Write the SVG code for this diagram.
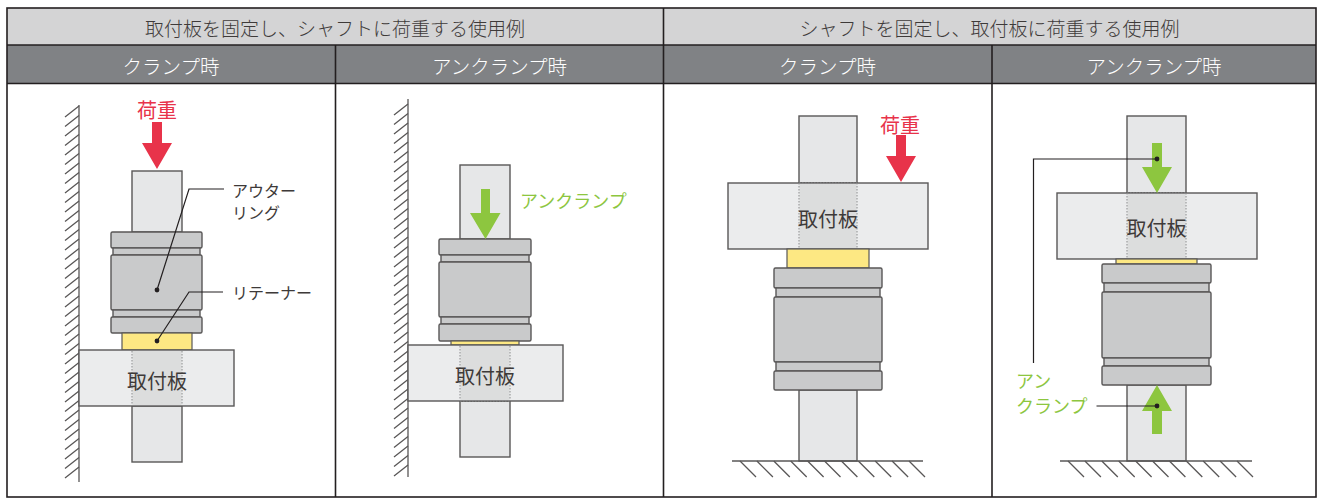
<svg xmlns="http://www.w3.org/2000/svg" width="1322" height="500" viewBox="0 0 1322 500">
  <style>
    .t { font-family: "Noto Sans CJK JP", "Noto Sans", sans-serif; dominant-baseline: central; }
    .hd1 { font-size: 19px; fill: #3e3a39; text-anchor: middle; font-weight: 300; }
    .hd2 { font-size: 19.5px; fill: #ffffff; text-anchor: middle; font-weight: 300; }
    .grid { stroke: #231f20; stroke-width: 1.6; fill: none; }
    .shaft { fill: #e6e7e8; stroke: #595757; stroke-width: 1.4; }
    .ring { fill: #c9cacb; stroke: #595757; stroke-width: 1.4; }
    .ret { fill: #fde883; stroke: #595757; stroke-width: 1.2; }
    .plate { fill: #ebeced; stroke: #595757; stroke-width: 1.4; }
    .bore { fill: #dcdddd; stroke: none; }
    .dot { stroke: #8a8b8c; stroke-width: 1; stroke-dasharray: 1.5 1.5; fill: none; }
    .hatch { stroke: #595757; stroke-width: 1.3; fill: none; }
    .lbl { font-size: 20px; fill: #3e3a39; text-anchor: middle; }
    .note { font-size: 16px; fill: #3e3a39; }
    .load { font-size: 20px; fill: #e8334a; text-anchor: middle; }
    .unc { font-size: 18px; fill: #8dc63f; }
    .red { fill: #e8334a; }
    .green { fill: #8dc63f; }
    .lead { stroke: #231f20; stroke-width: 1.2; fill: none; }
    .pin { fill: #231f20; }
  </style>

  <!-- table frame and headers -->
  <g id="table">
    <rect x="7" y="8" width="1309" height="37" fill="#d4d4d5"/>
    <rect x="7" y="45" width="1309" height="38" fill="#808285"/>
    <rect x="7" y="84" width="1309" height="413" fill="#ffffff"/>
    <rect class="grid" x="7" y="8" width="1309" height="489" stroke-width="2"/>
    <line class="grid" x1="7" y1="45" x2="1316" y2="45"/>
    <line class="grid" x1="7" y1="83.5" x2="1316" y2="83.5" stroke-width="2"/>
    <line class="grid" x1="663.5" y1="8" x2="663.5" y2="497"/>
    <line class="grid" x1="335.5" y1="45" x2="335.5" y2="497"/>
    <line class="grid" x1="992" y1="45" x2="992" y2="497"/>
    <text class="t hd1" x="335" y="27">取付板を固定し、シャフトに荷重する使用例</text>
    <text class="t hd1" x="989.5" y="27">シャフトを固定し、取付板に荷重する使用例</text>
    <text class="t hd2" x="171" y="65">クランプ時</text>
    <text class="t hd2" x="499.5" y="65">アンクランプ時</text>
    <text class="t hd2" x="827.5" y="65">クランプ時</text>
    <text class="t hd2" x="1154" y="65">アンクランプ時</text>
  </g>

  <!-- shaft loaded, clamped -->
  <g id="panel-shaft-clamp">
    <line class="hatch" x1="79" y1="105" x2="79" y2="482"/>
    <path class="hatch" d="M79,106l-14,11m14,-1.5l-14,11m14,-1.5l-14,11m14,-1.5l-14,11m14,-1.5l-14,11m14,-1.5l-14,11m14,-1.5l-14,11m14,-1.5l-14,11m14,-1.5l-14,11m14,-1.5l-14,11m14,-1.5l-14,11m14,-1.5l-14,11m14,-1.5l-14,11m14,-1.5l-14,11m14,-1.5l-14,11m14,-1.5l-14,11m14,-1.5l-14,11m14,-1.5l-14,11m14,-1.5l-14,11m14,-1.5l-14,11m14,-1.5l-14,11m14,-1.5l-14,11m14,-1.5l-14,11m14,-1.5l-14,11m14,-1.5l-14,11m14,-1.5l-14,11m14,-1.5l-14,11m14,-1.5l-14,11m14,-1.5l-14,11m14,-1.5l-14,11m14,-1.5l-14,11m14,-1.5l-14,11m14,-1.5l-14,11m14,-1.5l-14,11m14,-1.5l-14,11m14,-1.5l-14,11m14,-1.5l-14,11m14,-1.5l-14,11m14,-1.5l-14,11"/>
    <rect class="shaft" x="132" y="171" width="50" height="61"/>
    <rect class="shaft" x="132" y="406" width="50" height="56"/>
    <rect class="ring" x="111" y="232" width="91" height="16" rx="1.5"/>
    <rect class="ring" x="113" y="248" width="87" height="7"/>
    <rect class="ring" x="111" y="255" width="91" height="55" rx="1.5"/>
    <rect class="ring" x="113" y="310" width="87" height="7"/>
    <rect class="ring" x="111" y="317" width="91" height="16" rx="1.5"/>
    <rect class="ret" x="122" y="333" width="70" height="17"/>
    <rect class="plate" x="79" y="350" width="155" height="56"/>
    <rect class="bore" x="132.5" y="351" width="49" height="54"/>
    <path class="dot" d="M132,351V405M182,351V405"/>
    <text class="t lbl" x="157" y="380">取付板</text>
    <text class="t load" x="157" y="109">荷重</text>
    <polygon class="red" points="152,122 162,122 162,143 172,143 157,169 142,143 152,143"/>
  </g>

  <!-- shaft loaded, unclamped -->
  <g id="panel-shaft-unclamp">
    <line class="hatch" x1="408" y1="99" x2="408" y2="477"/>
    <path class="hatch" d="M408,104l-14,11m14,-1.5l-14,11m14,-1.5l-14,11m14,-1.5l-14,11m14,-1.5l-14,11m14,-1.5l-14,11m14,-1.5l-14,11m14,-1.5l-14,11m14,-1.5l-14,11m14,-1.5l-14,11m14,-1.5l-14,11m14,-1.5l-14,11m14,-1.5l-14,11m14,-1.5l-14,11m14,-1.5l-14,11m14,-1.5l-14,11m14,-1.5l-14,11m14,-1.5l-14,11m14,-1.5l-14,11m14,-1.5l-14,11m14,-1.5l-14,11m14,-1.5l-14,11m14,-1.5l-14,11m14,-1.5l-14,11m14,-1.5l-14,11m14,-1.5l-14,11m14,-1.5l-14,11m14,-1.5l-14,11m14,-1.5l-14,11m14,-1.5l-14,11m14,-1.5l-14,11m14,-1.5l-14,11m14,-1.5l-14,11m14,-1.5l-14,11m14,-1.5l-14,11m14,-1.5l-14,11m14,-1.5l-14,11m14,-1.5l-14,11m14,-1.5l-14,11"/>
    <rect class="shaft" x="460" y="165" width="50" height="74"/>
    <rect class="shaft" x="460" y="401" width="50" height="56"/>
    <rect class="ring" x="439" y="239" width="92" height="16" rx="1.5"/>
    <rect class="ring" x="441" y="255" width="88" height="7"/>
    <rect class="ring" x="439" y="262" width="92" height="55" rx="1.5"/>
    <rect class="ring" x="441" y="317" width="88" height="7"/>
    <rect class="ring" x="439" y="324" width="92" height="17" rx="1.5"/>
    <rect class="ret" x="451" y="341" width="68" height="4"/>
    <rect class="plate" x="408" y="345" width="155" height="56"/>
    <rect class="bore" x="460.5" y="346" width="49" height="54"/>
    <path class="dot" d="M460,346V400M510,346V400M460,401H510"/>
    <text class="t lbl" x="485" y="375">取付板</text>
    <polygon class="green" points="481,189 490,189 490,213 500.5,213 485.5,239 470,213 481,213"/>
    <text class="t unc" x="520" y="200">アンクランプ</text>
  </g>

  <!-- plate loaded, clamped -->
  <g id="panel-plate-clamp">
    <rect class="shaft" x="799" y="116" width="58" height="67"/>
    <rect class="shaft" x="799" y="390" width="58" height="71"/>
    <rect class="plate" x="728" y="183" width="200" height="66"/>
    <rect class="bore" x="799.5" y="184" width="57" height="64"/>
    <path class="dot" d="M799,183V248M857,183V248M799,183H857"/>
    <text class="t lbl" x="828" y="218">取付板</text>
    <rect class="ret" x="787" y="249" width="82" height="19"/>
    <rect class="ring" x="774" y="268" width="108" height="20" rx="1.5"/>
    <rect class="ring" x="776" y="288" width="104" height="9"/>
    <rect class="ring" x="774" y="297" width="108" height="65" rx="1.5"/>
    <rect class="ring" x="776" y="362" width="104" height="9"/>
    <rect class="ring" x="774" y="371" width="108" height="19" rx="1.5"/>
    <line class="hatch" x1="732" y1="461" x2="923" y2="461"/>
    <path class="hatch" d="M740,461l16,16m0.9,-16l16,16m0.9,-16l16,16m0.9,-16l16,16m0.9,-16l16,16m0.9,-16l16,16m0.9,-16l16,16m0.9,-16l16,16m0.9,-16l16,16m0.9,-16l16,16m0.9,-16l16,16"/>
    <text class="t load" x="900" y="124">荷重</text>
    <polygon class="red" points="896,135 906,135 906,156 916,156 901,182 886,156 896,156"/>
  </g>

  <!-- plate loaded, unclamped -->
  <g id="panel-plate-unclamp">
    <rect class="shaft" x="1127" y="116" width="59" height="77"/>
    <rect class="shaft" x="1127" y="385" width="59" height="76"/>
    <rect class="plate" x="1057" y="193" width="200" height="66"/>
    <rect class="bore" x="1127.5" y="194" width="58" height="64"/>
    <path class="dot" d="M1127,193V258M1186,193V258M1127,193H1186"/>
    <text class="t lbl" x="1156.5" y="227">取付板</text>
    <rect class="ret" x="1116" y="259" width="81" height="5"/>
    <rect class="ring" x="1102" y="264" width="109" height="19" rx="1.5"/>
    <rect class="ring" x="1104" y="283" width="105" height="9"/>
    <rect class="ring" x="1102" y="292" width="109" height="66" rx="1.5"/>
    <rect class="ring" x="1104" y="358" width="105" height="8"/>
    <rect class="ring" x="1102" y="366" width="109" height="19" rx="1.5"/>
    <line class="hatch" x1="1060" y1="461" x2="1252" y2="461"/>
    <path class="hatch" d="M1068,461l16,16m0.9,-16l16,16m0.9,-16l16,16m0.9,-16l16,16m0.9,-16l16,16m0.9,-16l16,16m0.9,-16l16,16m0.9,-16l16,16m0.9,-16l16,16m0.9,-16l16,16m0.9,-16l16,16"/>
    <polygon class="green" points="1152,143 1162,143 1162,167 1172,167 1157,193 1142,167 1152,167"/>
    <polygon class="green" points="1157,385 1172,411 1162,411 1162,434 1152,434 1152,411 1142,411"/>
    <text class="t unc" x="1016" y="380">アン</text>
    <text class="t unc" x="1016" y="405">クランプ</text>
  </g>

  <!-- leader lines -->
  <g id="connectors">
    <polyline class="lead" points="157,290 189,189 224,189"/>
    <circle class="pin" cx="157" cy="290" r="2.4"/>
    <polyline class="lead" points="157,341 189,292 223,292"/>
    <circle class="pin" cx="157" cy="341" r="2.4"/>
    <polyline class="lead" points="1157,159 1033.5,159 1033.5,363"/>
    <circle class="pin" cx="1157" cy="159" r="2.4"/>
    <line class="lead" x1="1157" y1="406" x2="1096.5" y2="406"/>
    <circle class="pin" cx="1157" cy="406" r="2.4"/>
  </g>

  <g id="labels">
    <text class="t note" x="232" y="190">アウター</text>
    <text class="t note" x="232" y="212">リング</text>
    <text class="t note" x="232" y="292">リテーナー</text>
  </g>
</svg>
